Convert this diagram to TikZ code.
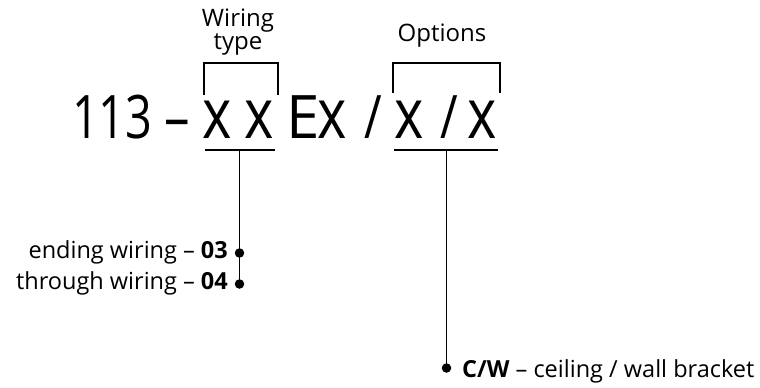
\documentclass[tikz,border=0pt]{standalone}
\usepackage{graphicx}
\usepackage{fontspec}
\setmainfont{Open Sans}
\begin{document}
\begin{tikzpicture}[x=1pt,y=-1pt,
  line/.style={line width=1.5pt,black},
  dotnode/.style={circle,fill=black,inner sep=0pt,minimum size=9.5pt},
  big/.style={font=\fontsize{60}{60}\selectfont,inner sep=0pt,anchor=base},
  bigx/.style={font=\fontsize{70}{70}\selectfont,inner sep=0pt,anchor=base},
  lab/.style={font=\fontsize{23.5}{26}\selectfont,inner sep=0pt},
  head/.style={font=\fontsize{24}{26}\selectfont,inner sep=0pt,anchor=base}]
\useasboundingbox (0,0) rectangle (760,388);
% main code
\node[big,anchor=base west] (n113) at (72,138) {\scalebox{0.78}[1]{113}};
\node[big] (dash) at (177,138) {\scalebox{0.85}[1]{–}};
\node[bigx] (x1) at (217,138) {\scalebox{0.8}[1]{x}};
\node[bigx] (x2) at (259,138) {\scalebox{0.8}[1]{x}};
\node[big] (e) at (303,138) {E};
\node[bigx] (ex) at (332,138) {\scalebox{0.8}[1]{x}};
\node[big] (s1) at (373,138) {\scalebox{0.8}[1]{/}};
\node[bigx] (x3) at (409,138) {\scalebox{0.8}[1]{x}};
\node[big] (s2) at (449,138) {\scalebox{0.8}[1]{/}};
\node[bigx] (x4) at (482,138) {\scalebox{0.8}[1]{x}};
% headings
\node[head] (wt1) at (238,27) {Wiring};
\node[head] (wt2) at (238,49) {type};
\node[head] (opt) at (442,41) {Options};
% brackets
\coordinate (b1l) at (204,95); \coordinate (b1r) at (278,95);
\draw[line] (b1l) -- ++(0,-32) -| (b1r);
\coordinate (b2l) at (393,93); \coordinate (b2r) at (500,93);
\draw[line] (b2l) -- ++(0,-30) -| (b2r);
% underlines
\coordinate (u1l) at (205,150); \coordinate (u1r) at (275,150); \coordinate (u1m) at (239.5,150);
\draw[line] (u1l) -- (u1r);
\coordinate (u2l) at (394,150); \coordinate (u2r) at (498,150); \coordinate (u2m) at (446.5,150);
\draw[line] (u2l) -- (u2r);
% dots
\node[dotnode] (d1) at (239.5,253) {};
\node[dotnode] (d2) at (239.5,284) {};
\node[dotnode] (d3) at (446.5,368) {};
\draw[line] (u1m) -- (d2.center);
\draw[line] (u2m) -- (d3.center);
% labels
\node[lab,anchor=base east] (l1) at (228,258) {ending wiring – \textbf{03}};
\node[lab,anchor=base east] (l2) at (228,289) {through wiring – \textbf{04}};
\node[lab,anchor=base west] (l3) at (462,377) {\textbf{C/W} – ceiling / wall bracket};
\end{tikzpicture}
\end{document}
